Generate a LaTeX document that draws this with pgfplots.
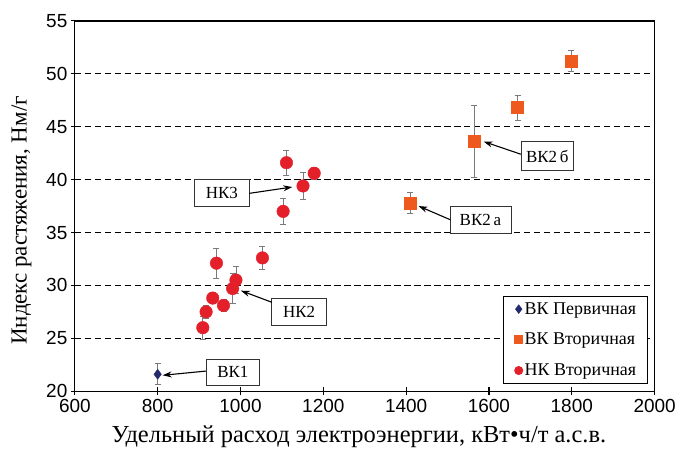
\documentclass[border=0pt]{standalone}
\usepackage{fontspec}
\setmainfont{Liberation Serif}
\newfontfamily\tickfont{Liberation Sans}
\usepackage{pgfplots}
\pgfplotsset{compat=1.18}
\usetikzlibrary{arrows.meta}
\definecolor{bknavy}{HTML}{232B6E}
\definecolor{bkorange}{HTML}{EE5A1E}
\definecolor{nkred}{HTML}{E3202A}
\definecolor{errgray}{HTML}{7A7A7A}

\begin{document}
\begin{tikzpicture}
% page frame: the axis box sits at (75,58) px from the lower left of a 679x450 picture
\path (-75bp,-58bp) rectangle (604bp,392bp);
\begin{axis}[
  at={(0,0)}, anchor=south west,
  scale only axis, width=581bp, height=371bp,
  xmin=600, xmax=2000, ymin=20, ymax=55,
  xtick={600,800,...,2000}, ytick={20,25,...,55},
  xtick pos=left, ytick pos=left, tick align=center,
  major tick length=8bp,
  axis line style={line width=1.3bp},
  tick style={line width=1.1bp, black},
  ymajorgrids,
  grid style={line width=1.3bp, black, dash pattern=on 6.5bp off 3.5bp},
  /pgf/number format/assume math mode=true,
  /pgf/number format/1000 sep={},
  ticklabel style={font=\tickfont\fontsize{19bp}{22bp}\selectfont},
  xticklabel style={yshift=-1bp},
  xlabel={Удельный расход электроэнергии, кВт•ч/т а.с.в.},
  ylabel={Индекс растяжения, Нм/г},
  xlabel style={font=\fontsize{24.5bp}{28bp}\selectfont,
    at={(axis description cs:0.49,-0.122)}, anchor=center},
  ylabel style={font=\fontsize{23bp}{26bp}\selectfont,
    at={(axis description cs:-0.092,0.461)}, anchor=center},
  legend cell align=left,
  legend image code/.code={\path (-6bp,0bp); \draw[#1, mark size=4bp] plot coordinates {(0bp,0bp)};},
  legend style={at={(0.988,0.019)}, anchor=south east,
    font=\fontsize{18bp}{21bp}\selectfont, draw=black, line width=1bp,
    row sep=13.5bp, inner xsep=9bp, inner ysep=4.5bp},
  error bars/error bar style={line width=0.8bp, errgray},
  error bars/error mark options={rotate=90, mark size=3bp, line width=0.8bp, errgray},
]
\addplot[only marks, mark=diamond*, mark size=5bp, color=bknavy,
  error bars/.cd, y dir=both, y explicit]
  table[x=x, y=y, y error=e] {
x y e
800 21.6 1.0
};
\addlegendentry{ВК Первичная}

\addplot[only marks, mark=square*, mark size=6bp, color=bkorange,
  error bars/.cd, y dir=both, y explicit]
  table[x=x, y=y, y error=e] {
x y e
1799 51.2 1.0
1669 46.8 1.2
1565 43.6 3.4
1410 37.8 1.0
};
\addlegendentry{ВК Вторичная}

\addplot[only marks, mark=*, mark size=6.3bp, color=nkred,
  error bars/.cd, y dir=both, y explicit]
  table[x=x, y=y, y error=e] {
x y e
1111 41.6 1.2
1178 40.6 0.6
1151 39.4 1.3
1103 37.0 1.2
1053 32.6 1.1
942 32.1 1.4
989 30.5 1.3
981 29.7 1.4
933 28.8 0.5
959 28.1 0.6
917 27.5 0.6
909 26.0 1.1
};
\addlegendentry{НК Вторичная}

% callout boxes
\tikzset{callout/.style={draw=black!80, fill=white, line width=0.8bp,
  font=\fontsize{17bp}{20bp}\selectfont, minimum height=27bp, inner xsep=4bp},
  pointer/.style={-{Stealth[length=9bp, width=6bp]}, line width=1.1bp}}
\node[callout, minimum width=55bp] at (axis cs:955,38.7) {НК3};
\draw[pointer] (axis cs:1021,38.7) -- (axis cs:1125,39.3);
\node[callout, minimum width=55bp] at (axis cs:1141.5,27.5) {НК2};
\draw[pointer] (axis cs:1076,28.4) -- (axis cs:1001,29.5);
\node[callout, minimum width=53bp, minimum height=26bp] at (axis cs:981.5,21.8) {ВК1};
\draw[pointer] (axis cs:917,21.9) -- (axis cs:812,21.5);
\node[callout, minimum width=52bp, minimum height=29bp] at (axis cs:1741,42.2) {ВК2\,б};
\draw[pointer] (axis cs:1677,42.4) -- (axis cs:1587,43.6);
\node[callout, minimum width=61bp] at (axis cs:1579.5,36.2) {ВК2\,а};
\draw[pointer] (axis cs:1507,36.2) -- (axis cs:1430,37.5);
\end{axis}
\end{tikzpicture}
\end{document}
